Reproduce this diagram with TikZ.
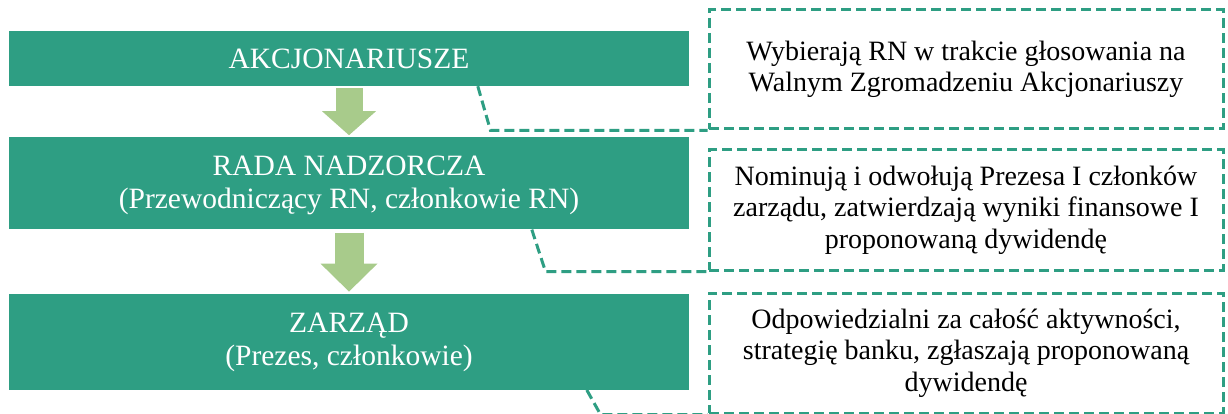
\documentclass[tikz,border=0pt]{standalone}
\usepackage{fontspec}
\newfontfamily\tnr{Liberation Serif}
\usepackage{tikz}
\usetikzlibrary{positioning,calc,arrows.meta}
\definecolor{morski}{RGB}{46,158,131}
\definecolor{oliwka}{RGB}{168,203,139}
\tikzstyle{organ} = [rectangle, minimum width=680pt, minimum height=55pt, inner sep=0pt, text centered, align=center, fill=morski, text=white, font=\tnr\fontsize{29.5}{33}\selectfont]
\tikzstyle{opis} = [rectangle, minimum width=514pt, minimum height=120pt, inner sep=0pt, text centered, align=center, draw=morski, line width=3pt, dash pattern=on 10pt off 5pt, font=\tnr\fontsize{28}{31.5}\selectfont]
\tikzstyle{arrow} = [oliwka, line width=27pt, -{Triangle[width=54pt, length=24pt, line width=0pt]}, shorten <=2pt, shorten >=2pt]
\tikzstyle{link} = [morski, line width=3pt, dash pattern=on 10pt off 5pt]

\begin{document}
\begin{tikzpicture}[x=1pt, y=-1pt]
\useasboundingbox (0,0) rectangle (1228,414);

% Nodes
\node (akc) [organ] at (349,58.5) {AKCJONARIUSZE};
\node (rada) [organ, below=51pt of akc, minimum height=92pt, text depth=3pt] {RADA NADZORCZA\\(Przewodniczący RN, członkowie RN)};
\node (zarzad) [organ, below=64pt of rada, minimum height=96pt, text depth=5pt] {ZARZĄD\\(Prezes, członkowie)};
\node (infoA) [opis, minimum height=119pt] at (966,69.5) {Wybierają RN w trakcie głosowania na\\Walnym Zgromadzeniu Akcjonariuszy};
\node (infoB) [opis] at (966,210) {Nominują i odwołują Prezesa I członków\\zarządu, zatwierdzają wyniki finansowe I\\proponowaną dywidendę};
\node (infoC) [opis] at (966,353) {Odpowiedzialni za całość aktywności,\\strategię banku, zgłaszają proponowaną\\dywidendę};

% Arrows
\draw [arrow] (akc) -- (rada);
\draw [arrow, line width=29pt, -{Triangle[width=57pt, length=28pt, line width=0pt]}, shorten <=3pt] (rada) -- (zarzad);

% Links
\draw [link] ($(akc.south west)+(469,0)$) -- ($(infoA.south west)+(-217,0)$) -- (infoA.south west);
\draw [link] ($(rada.south west)+(523,0)$) -- ($(infoB.south west)+(-162,0)$) -- (infoB.south west);
\draw [link] ($(zarzad.south west)+(578,0)$) -- ($(infoC.south west)+(-107,0)$) -- (infoC.south west);

\end{tikzpicture}
\end{document}
